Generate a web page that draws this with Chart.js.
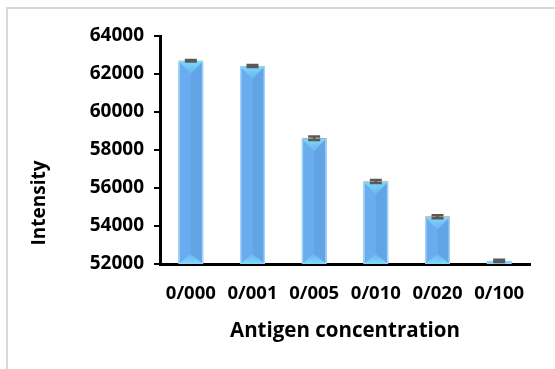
<!DOCTYPE html>
<html>
<head>
<meta charset="utf-8">
<script src="https://cdn.jsdelivr.net/npm/chart.js@4.4.1/dist/chart.umd.min.js"></script>
<style>
  html, body { margin: 0; padding: 0; background: #ffffff; }
  #wrap { position: relative; width: 555px; height: 369px; }
</style>
</head>
<body>
<div id="wrap"><canvas id="chart" width="555" height="369"></canvas></div>
<script>
// Antigen concentrations and measured intensity
const categories = ['0/000', '0/001', '0/005', '0/010', '0/020', '0/100'];
const intensity = [62700, 62420, 58620, 56340, 54490, 52160];
const intensityError = [40, 50, 90, 80, 80, 60];
const yTicks = [52000, 54000, 56000, 58000, 60000, 62000, 64000];
const topEdgeColors = ['#b6dccb', '#e7b07e', '#ed7d31', '#ed7d31', '#ed7d31', '#ed7d31'];

const FONT = "'Open Sans', 'DejaVu Sans', sans-serif";

// Outer frame (left and top edges only)
const framePlugin = {
  id: 'frame',
  beforeDraw(chart) {
    const c = chart.ctx;
    c.save();
    c.strokeStyle = '#d9d9d9';
    c.lineWidth = 2;
    c.beginPath();
    c.moveTo(7, chart.height);
    c.lineTo(7, 8);
    c.lineTo(chart.width, 8);
    c.stroke();
    c.restore();
  }
};

// Bevelled look on each bar: darker right half plus light triangles at top and bottom
const bevelPlugin = {
  id: 'bevel',
  afterDatasetsDraw(chart) {
    const c = chart.ctx;
    const area = chart.chartArea;
    const meta = chart.getDatasetMeta(0);
    meta.data.forEach((bar) => {
      const p = bar.getProps(['x', 'y', 'base', 'width'], true);
      const l = p.x - p.width / 2, r = p.x + p.width / 2;
      const t = p.y, b = Math.min(p.base, area.bottom);
      c.save();
      c.beginPath();
      c.rect(l, t, r - l, b - t);
      c.clip();
      // darker right half
      c.fillStyle = 'rgba(70,130,200,0.2)';
      c.fillRect(p.x, t, r - p.x, b - t);
      // edge highlights
      c.fillStyle = 'rgba(170,215,250,0.9)';
      c.fillRect(l, t, 1.5, b - t);
      c.fillRect(r - 1.5, t, 1.5, b - t);
      // top triangle pointing down
      const depth = 13;
      let g = c.createLinearGradient(0, t, 0, t + depth);
      g.addColorStop(0, 'rgba(128,220,252,1)');
      g.addColorStop(1, 'rgba(115,195,245,0.5)');
      c.fillStyle = g;
      c.beginPath();
      c.moveTo(l, t);
      c.lineTo(r, t);
      c.lineTo(p.x, t + depth);
      c.closePath();
      c.fill();
      // bottom triangle pointing up
      const depthB = 10;
      g = c.createLinearGradient(0, b, 0, b - depthB);
      g.addColorStop(0, 'rgba(128,220,252,1)');
      g.addColorStop(1, 'rgba(115,195,245,0.5)');
      c.fillStyle = g;
      c.beginPath();
      c.moveTo(l, b);
      c.lineTo(r, b);
      c.lineTo(p.x, b - depthB);
      c.closePath();
      c.fill();
      c.restore();
    });
  }
};

// Error bars drawn through the value scale
const errorBarPlugin = {
  id: 'errorBars',
  afterDatasetsDraw(chart) {
    const c = chart.ctx;
    const ys = chart.scales.y;
    const meta = chart.getDatasetMeta(0);
    c.save();
    c.strokeStyle = '#595959';
    c.lineWidth = 2.5;
    meta.data.forEach((bar, i) => {
      const x = bar.x;
      const hi = ys.getPixelForValue(intensity[i] + intensityError[i]);
      const lo = ys.getPixelForValue(intensity[i] - intensityError[i]);
      const cap = 6;
      c.beginPath();
      c.moveTo(x, hi); c.lineTo(x, lo);
      c.moveTo(x - cap, hi); c.lineTo(x + cap, hi);
      c.moveTo(x - cap, lo); c.lineTo(x + cap, lo);
      c.stroke();
    });
    c.restore();
  }
};

// Vertical axis title
const yTitlePlugin = {
  id: 'yTitle',
  afterDraw(chart) {
    const c = chart.ctx;
    c.save();
    c.translate(40, 203);
    c.rotate(-Math.PI / 2);
    c.font = "bold 19px " + FONT;
    c.fillStyle = '#000';
    c.textAlign = 'center';
    c.textBaseline = 'middle';
    c.fillText('Intensity', 0, 0);
    c.restore();
  }
};

new Chart(document.getElementById('chart'), {
  type: 'bar',
  data: {
    labels: categories,
    datasets: [{
      data: intensity,
      backgroundColor: '#69adee',
      borderColor: topEdgeColors,
      borderWidth: { top: 2, left: 0, right: 0, bottom: 0 },
      borderSkipped: 'bottom',
      barThickness: 25
    }]
  },
  options: {
    responsive: false,
    animation: false,
    layout: { padding: { top: 36, right: 25, left: 0, bottom: 0 } },
    plugins: { legend: { display: false }, tooltip: { enabled: false } },
    scales: {
      x: {
        grid: { display: false, drawTicks: false },
        border: { color: '#000', width: 3 },
        ticks: { color: '#000', font: { family: FONT, size: 18.5, weight: 'bold' }, padding: 19, maxRotation: 0 },
        title: { display: true, text: 'Antigen concentration', color: '#000', font: { family: FONT, size: 20.5, weight: 'bold' }, padding: { top: 4, bottom: 26 } },
        afterFit(scale) { scale.height = 105; }
      },
      y: {
        min: 52000,
        max: 64000,
        afterBuildTicks(scale) { scale.ticks = yTicks.map(v => ({ value: v })); },
        grid: { drawOnChartArea: false, drawTicks: true, tickLength: 6, color: '#000', lineWidth: 2 },
        border: { color: '#000', width: 3 },
        ticks: { color: '#000', font: { family: FONT, size: 19, weight: 'bold' }, padding: 10, callback: v => String(v) },
        afterFit(scale) { scale.width = 160; }
      }
    }
  },
  plugins: [framePlugin, bevelPlugin, errorBarPlugin, yTitlePlugin]
});
</script>
</body>
</html>
